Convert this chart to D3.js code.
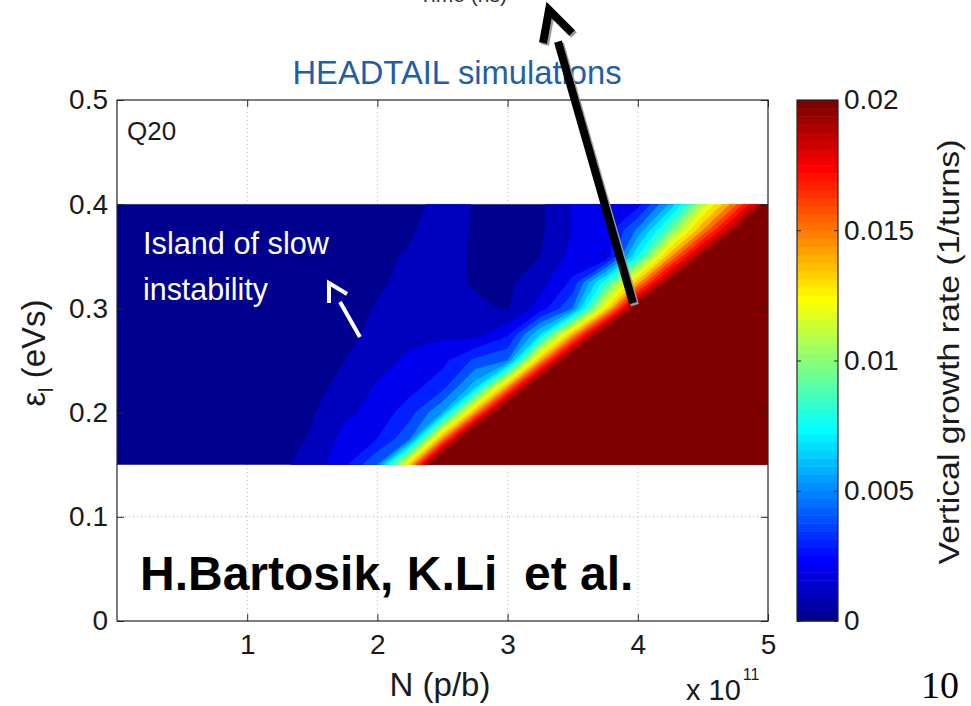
<!DOCTYPE html>
<html>
<head>
<meta charset="utf-8">
<script src="https://cdn.jsdelivr.net/npm/d3@7"></script>
<style>
  body { margin: 0; background: #fff; }
  svg text { font-family: "Liberation Sans", Arial, sans-serif; }
</style>
</head>
<body>
<div id="chart"></div>
<script>
// HEADTAIL scan grid: bunch intensity N (1e11 p/b) x longitudinal emittance (eVs)
var intensities = [0, 0.25, 0.5, 0.75, 1, 1.25, 1.5, 1.75, 2, 2.25, 2.5,
                   2.75, 3, 3.25, 3.5, 3.75, 4, 4.25, 4.5, 4.75, 5];
var emittances = [0.15, 0.175, 0.2, 0.225, 0.25, 0.275, 0.3, 0.325, 0.35, 0.375, 0.4];

// vertical growth rate in 1e-3 /turn, one row per emittance (bottom to top)
var rate150 = [0.2, 0.2, 0.2, 0.3, 0.4, 0.8, 1.4, 2.8, 5.0, 14.0, 25, 36, 45, 52, 58, 63, 68, 72, 76, 80, 84];
var rate175 = [0.2, 0.2, 0.2, 0.3, 0.4, 0.6, 1.1, 2.3, 3.0, 4.8, 15.0, 25, 35, 43, 50, 56, 61, 66, 70, 74, 78];
var rate200 = [0.2, 0.2, 0.2, 0.3, 0.4, 0.5, 0.9, 1.8, 2.3, 3.6, 6.0, 14.8, 24, 33, 42, 49, 55, 60, 64, 68, 72];
var rate225 = [0.2, 0.2, 0.2, 0.3, 0.3, 0.5, 0.7, 1.3, 2.1, 2.6, 3.6, 6.5, 14.7, 23.7, 32, 41, 48, 54, 59, 63, 67];
var rate250 = [0.2, 0.2, 0.2, 0.2, 0.3, 0.4, 0.6, 1.0, 1.6, 2.2, 2.7, 4.2, 5.0, 14.5, 23, 31, 39, 46, 52, 57, 61];
var rate275 = [0.2, 0.2, 0.2, 0.2, 0.3, 0.4, 0.5, 0.8, 1.2, 1.7, 1.8, 1.6, 2.8, 7.0, 14.4, 22.6, 30, 37, 44, 50, 55];
var rate300 = [0.2, 0.2, 0.2, 0.2, 0.3, 0.3, 0.5, 0.7, 1.05, 1.3, 1.5, 1.2, 0.9, 2.4, 5.0, 13.0, 21.7, 28, 34, 40, 45];
var rate325 = [0.2, 0.2, 0.2, 0.2, 0.3, 0.3, 0.4, 0.6, 0.9, 1.2, 1.3, 0.9, 0.8, 1.6, 3.2, 8.5, 14.4, 21, 27, 33, 38];
var rate350 = [0.2, 0.2, 0.2, 0.2, 0.3, 0.3, 0.4, 0.5, 0.8, 1.1, 1.4, 0.85, 0.7, 1.0, 2.3, 1.9, 8.0, 14.7, 20.7, 26, 31];
var rate375 = [0.2, 0.2, 0.2, 0.2, 0.3, 0.3, 0.4, 0.5, 0.6, 0.9, 1.4, 0.9, 0.7, 0.8, 2.0, 2.4, 5.2, 9.8, 15, 20.3, 25];
var rate400 = [0.2, 0.2, 0.2, 0.2, 0.3, 0.3, 0.4, 0.5, 0.6, 0.7, 1.3, 0.95, 0.7, 0.8, 2.1, 2.3, 2.6, 6.2, 11.4, 15.7, 21];
var rateRows = [rate150, rate175, rate200, rate225, rate250, rate275,
                rate300, rate325, rate350, rate375, rate400];

// contourf levels (1/turns)
var levels = [0, 0.001, 0.002, 0.003, 0.004, 0.005, 0.006, 0.007, 0.008, 0.009, 0.01,
              0.011, 0.012, 0.013, 0.014, 0.015, 0.016, 0.017, 0.018, 0.019, 0.02];

var xTicks = [1, 2, 3, 4, 5];
var yTicks = [0, 0.1, 0.2, 0.3, 0.4, 0.5];
var cTicks = [0, 0.005, 0.01, 0.015, 0.02];
var cMax = 0.02;

// arrows drawn on the slide, in data coordinates [N, eps]
var blackArrow = { tail: [3.963, 0.305], tip: [3.387, 0.556], head: [[3.272, 0.5547], [3.318, 0.5864], [3.495, 0.5643]] };
var whiteArrow = { tail: [1.866, 0.2726], tip: [1.713, 0.3061], head: [[1.628, 0.3052], [1.628, 0.3244], [1.767, 0.3138]] };

var width = 971;
var height = 706;
var svg = d3.select("#chart")
    .append("svg")
    .attr("width", width)
    .attr("height", height);

var x = d3.scaleLinear().domain([0, 5]).range([117, 768]);
var y = d3.scaleLinear().domain([0, 0.5]).range([621, 100]);
var c = d3.scaleLinear().domain([0, cMax]).range([621, 100]);

// MATLAB jet(64)
function jet(row) {
    function u(k) {
        if (k < 1 || k > 47) return 0;
        if (k <= 16) return k / 16;
        if (k <= 31) return 1;
        return (48 - k) / 16;
    }
    return d3.rgb(u(row - 24) * 255, u(row - 8) * 255, u(row + 8) * 255).toString();
}
function colorOf(v) {
    var row = Math.floor(v / cMax * 64 + 1e-9) + 1;
    return jet(Math.max(1, Math.min(64, row)));
}

// grid
var grid = svg.append("g")
    .attr("stroke", "#b8b8b8")
    .attr("stroke-dasharray", "1,3");
grid.selectAll(".gx").data(xTicks.slice(0, 4)).enter().append("line")
    .attr("x1", d => x(d)).attr("x2", d => x(d))
    .attr("y1", y(0)).attr("y2", y(0.5));
grid.selectAll(".gy").data(yTicks.slice(1, 5)).enter().append("line")
    .attr("x1", x(0)).attr("x2", x(5))
    .attr("y1", d => y(d)).attr("y2", d => y(d));

// filled contours
var nx = intensities.length, ny = emittances.length;
var values = [];
rateRows.forEach(function(row) {
    row.forEach(function(v) { values.push(v * 1e-3); });
});
var contours = d3.contours()
    .size([nx, ny])
    .thresholds(levels)(values);

var gx = d3.scaleLinear().domain([0.5, nx - 0.5]).range([x(intensities[0]), x(intensities[nx - 1])]);
var gy = d3.scaleLinear().domain([0.5, ny - 0.5]).range([y(emittances[0]), y(emittances[ny - 1])]);
var path = d3.geoPath(d3.geoTransform({
    point: function(px, py) { this.stream.point(gx(px), gy(py)); }
}));

svg.append("clipPath").attr("id", "dataClip")
    .append("rect")
    .attr("x", x(intensities[0]))
    .attr("y", y(emittances[ny - 1]))
    .attr("width", x(intensities[nx - 1]) - x(intensities[0]))
    .attr("height", y(emittances[0]) - y(emittances[ny - 1]));

svg.append("g")
    .attr("clip-path", "url(#dataClip)")
    .selectAll("path")
    .data(contours)
    .enter()
    .append("path")
    .attr("d", path)
    .attr("fill", d => colorOf(d.value))
    .attr("stroke", d => colorOf(d.value))
    .attr("stroke-width", 0.6);

// axes box
var axisColor = "#262626";
svg.append("rect")
    .attr("x", x(0)).attr("y", y(0.5))
    .attr("width", x(5) - x(0)).attr("height", y(0) - y(0.5))
    .attr("fill", "none").attr("stroke", axisColor).attr("stroke-width", 1.2);

function styleAxis(g, showText) {
    g.select(".domain").remove();
    g.selectAll("line").attr("stroke", axisColor);
    g.selectAll("text")
        .attr("fill", "#1a1a1a")
        .style("font-size", "28px")
        .style("display", showText ? null : "none");
}

svg.append("g")
    .attr("transform", "translate(0," + y(0) + ")")
    .call(d3.axisBottom(x).tickValues(xTicks).tickSize(-7).tickPadding(13).tickFormat(d3.format("d")))
    .call(g => styleAxis(g, true));
svg.append("g")
    .attr("transform", "translate(0," + y(0.5) + ")")
    .call(d3.axisTop(x).tickValues(xTicks).tickSize(-7))
    .call(g => styleAxis(g, false));
svg.append("g")
    .attr("transform", "translate(" + x(0) + ",0)")
    .call(d3.axisLeft(y).tickValues(yTicks).tickSize(-7).tickPadding(9).tickFormat(d => d === 0 ? "0" : d3.format(".1f")(d)))
    .call(g => styleAxis(g, true));
svg.append("g")
    .attr("transform", "translate(" + x(5) + ",0)")
    .call(d3.axisRight(y).tickValues(yTicks).tickSize(-7))
    .call(g => styleAxis(g, false));

// colorbar
var cbX = 797, cbW = 41;
var cbSteps = d3.range(64);
svg.append("g").selectAll("rect")
    .data(cbSteps)
    .enter()
    .append("rect")
    .attr("x", cbX)
    .attr("y", d => c((d + 1) * cMax / 64))
    .attr("width", cbW)
    .attr("height", d => c(d * cMax / 64) - c((d + 1) * cMax / 64) + 0.5)
    .attr("fill", d => jet(d + 1));
svg.append("rect")
    .attr("x", cbX).attr("y", c(cMax))
    .attr("width", cbW).attr("height", c(0) - c(cMax))
    .attr("fill", "none").attr("stroke", axisColor).attr("stroke-width", 1.2);
svg.append("g")
    .attr("transform", "translate(" + (cbX + cbW) + ",0)")
    .call(d3.axisRight(c).tickValues(cTicks).tickSize(-4).tickPadding(6).tickFormat(d => d === 0 ? "0" : String(+d.toFixed(3))))
    .call(g => styleAxis(g, true));
svg.append("g")
    .attr("transform", "translate(" + cbX + ",0)")
    .call(d3.axisLeft(c).tickValues(cTicks).tickSize(-4))
    .call(g => styleAxis(g, false));

// axis titles
svg.append("text")
    .attr("x", 440).attr("y", 696)
    .attr("text-anchor", "middle")
    .attr("fill", "#1a1a1a")
    .style("font-size", "33px")
    .text("N (p/b)");
var mult = svg.append("text")
    .attr("x", 686).attr("y", 700)
    .attr("fill", "#1a1a1a")
    .style("font-size", "29px");
mult.append("tspan").text("x 10");
mult.append("tspan").attr("dy", -20).attr("dx", 2).style("font-size", "16px").text("11");

var yTitle = svg.append("text")
    .attr("transform", "translate(45,353) rotate(-90)")
    .attr("text-anchor", "middle")
    .attr("fill", "#1a1a1a")
    .style("font-size", "33px");
yTitle.append("tspan").text("ε");
yTitle.append("tspan").attr("dy", 8).style("font-size", "20px").text("l");
yTitle.append("tspan").attr("dy", -8).text(" (eVs)");

svg.append("text")
    .attr("transform", "translate(959,352) rotate(-90)")
    .attr("text-anchor", "middle")
    .attr("fill", "#1a1a1a")
    .style("font-size", "29px")
    .attr("textLength", 425)
    .attr("lengthAdjust", "spacingAndGlyphs")
    .text("Vertical growth rate (1/turns)");

// slide annotations
svg.append("text")
    .attr("x", 463).attr("y", 2)
    .attr("text-anchor", "middle")
    .attr("fill", "#333")
    .style("font-size", "21px")
    .text("Time (ns)");
svg.append("text")
    .attr("x", 457).attr("y", 84)
    .attr("text-anchor", "middle")
    .attr("fill", "#1f5ea8")
    .style("font-size", "33px")
    .attr("textLength", 329)
    .attr("lengthAdjust", "spacingAndGlyphs")
    .text("HEADTAIL simulations");
svg.append("text")
    .attr("x", 127).attr("y", 140)
    .attr("fill", "#1a1a1a")
    .style("font-size", "26px")
    .text("Q20");
svg.append("text")
    .attr("x", 143).attr("y", 254)
    .attr("fill", "#fff")
    .style("font-size", "32px")
    .attr("textLength", 186)
    .attr("lengthAdjust", "spacingAndGlyphs")
    .text("Island of slow");
svg.append("text")
    .attr("x", 143).attr("y", 300)
    .attr("fill", "#fff")
    .style("font-size", "32px")
    .attr("textLength", 125)
    .attr("lengthAdjust", "spacingAndGlyphs")
    .text("instability");
svg.append("text")
    .attr("x", 140).attr("y", 590)
    .attr("fill", "#000")
    .style("font-size", "48px")
    .style("font-weight", "bold")
    .style("white-space", "pre")
    .text("H.Bartosik, K.Li  et al.");
svg.append("text")
    .attr("x", 921).attr("y", 698)
    .attr("fill", "#000")
    .style("font-family", "'Liberation Serif', 'Times New Roman', serif")
    .style("font-size", "38px")
    .text("10");

function drawArrow(a, color, w, shadow) {
    var line = d3.line().x(d => x(d[0])).y(d => y(d[1]));
    var g = svg.append("g").attr("fill", "none").attr("stroke-linejoin", "miter");
    if (shadow) {
        g.append("path").attr("d", line([a.tail, a.tip])).attr("stroke", "#999")
            .attr("stroke-width", w).attr("transform", "translate(2,2)");
        g.append("path").attr("d", line(a.head)).attr("stroke", "#999")
            .attr("stroke-width", w).attr("transform", "translate(2,2)");
    }
    g.append("path").attr("d", line([a.tail, a.tip])).attr("stroke", color).attr("stroke-width", w);
    g.append("path").attr("d", line(a.head)).attr("stroke", color).attr("stroke-width", w);
}
drawArrow(whiteArrow, "#fff", 4, false);
drawArrow(blackArrow, "#000", 8, true);
</script>
</body>
</html>
